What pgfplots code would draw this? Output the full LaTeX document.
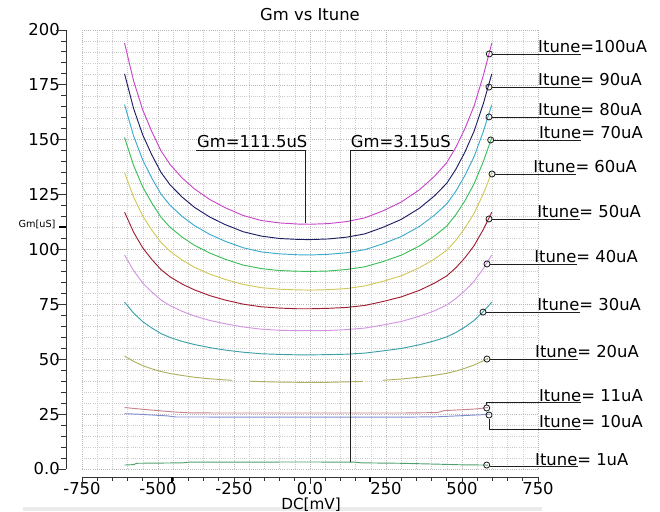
\documentclass[border=0pt]{standalone}
\usepackage{fontspec}
\setmainfont{DejaVu Sans}
\usepackage{pgfplots}
\usepackage{pgfplotstable}
\pgfplotsset{compat=1.18}

\definecolor{c100}{RGB}{200,70,200}
\definecolor{c90}{RGB}{30,30,100}
\definecolor{c80}{RGB}{60,170,205}
\definecolor{c70}{RGB}{60,190,90}
\definecolor{c60}{RGB}{210,200,90}
\definecolor{c50}{RGB}{160,30,50}
\definecolor{c40}{RGB}{210,150,225}
\definecolor{c30}{RGB}{60,160,170}
\definecolor{c20}{RGB}{175,175,95}
\definecolor{c11}{RGB}{200,130,140}
\definecolor{c10}{RGB}{130,140,210}
\definecolor{c1}{RGB}{80,160,110}
\definecolor{ldr}{RGB}{30,30,30}

% Gm [uS] versus DC [mV], one column per Itune
\pgfplotstableread{
x     a100  a90   a80   a70   a60   a50   a40  a30
-610 194.0 180.0 166.0 151.0 135.0 117.0 97.5 76.0
-580 176.7 164.1 151.6 138.2 123.8 107.8 90.3 71.0
-550 163.5 152.1 140.7 128.4 115.2 100.7 84.7 67.1
-520 153.6 143.0 132.4 121.1 108.8 95.4  80.6 64.2
-490 144.9 135.1 125.2 114.7 103.2 90.8  77.0 61.7
-460 138.7 129.4 120.1 110.1 99.2  87.5  74.4 59.9
-420 132.5 123.8 115.0 105.6 95.1  84.2  71.8 58.1
-380 127.6 119.2 110.9 101.9 91.9  81.6  69.7 56.7
-330 122.8 114.8 106.9 98.4  88.8  79.0  67.7 55.3
-280 119.1 111.4 103.8 95.6  86.4  77.0  66.2 54.2
-220 115.5 108.1 100.8 92.9  84.1  75.1  64.7 53.2
-160 113.2 106.1 98.9  91.3  82.6  73.9  63.7 52.5
-100 112.1 105.0 98.0  90.4  81.9  73.3  63.2 52.2
-40  111.6 104.6 97.6  90.1  81.6  73.0  63.0 52.0
0    111.5 104.5 97.5  90.0  81.5  73.0  63.0 52.0
60   111.8 104.8 97.8  90.2  81.7  73.2  63.1 52.1
120  112.7 105.6 98.5  90.9  82.2  73.6  63.5 52.3
180  114.4 107.1 99.9  92.1  83.4  74.5  64.2 52.8
240  117.6 110.1 102.6 94.5  85.5  76.3  65.6 53.8
300  121.6 113.7 105.9 97.4  88.0  78.4  67.2 54.9
360  127.2 118.8 110.5 101.6 91.7  81.4  69.6 56.6
410  133.4 124.5 115.7 106.2 95.7  84.7  72.1 58.4
450  139.6 130.2 120.8 110.7 99.7  88.0  74.7 60.2
480  146.6 136.6 126.6 115.9 104.2 91.7  77.7 62.2
510  155.2 144.5 133.8 122.3 109.9 96.3  81.3 64.7
540  165.5 154.0 142.4 130.0 116.5 101.8 85.6 67.7
570  179.2 166.4 153.7 140.0 125.4 109.1 91.3 71.7
598  194.0 180.0 166.0 151.0 135.0 117.0 97.5 76.0
}\gmdata

\newcommand{\lbl}{\fontsize{14}{16}\selectfont}
% leader line + label: #1 line start x, #2 label x, #3 line end x, #4 line y, #5 text
\newcommand{\itune}[5]{%
  \draw[ldr, line width=0.7pt] (axis cs:#1,#4) -- (axis cs:#3,#4);
  \node[anchor=base west, inner sep=0pt, yshift=0.05cm, font=\lbl] at (axis cs:#2,#4) {#5};
}

\begin{document}
\begin{tikzpicture}
\useasboundingbox (-2.46,-1.29) rectangle (17.34,14.07);
\fill[black!8] (-1.77,-1.25) rectangle (13.8,-1.15);

\begin{axis}[
    at={(0,0)}, anchor=south west,
    scale only axis,
    width=13.68cm, height=13.17cm,
    xmin=-750, xmax=750, ymin=0, ymax=200,
    axis line style={draw=none},
    major tick length=0pt, minor tick length=0pt,
    xtick={-750,-500,-250,0,250,500,750},
    xticklabels={-750,-500,-250,0.0,250,500,750},
    ytick={0,25,...,200},
    yticklabels={0.0,25,50,75,100,125,150,175,200},
    minor x tick num=4, minor y tick num=4,
    grid=both,
    major grid style={black!28, line width=0.5pt, dash pattern=on 0.6pt off 1.2pt},
    minor grid style={black!20, line width=0.5pt, dash pattern=on 0.6pt off 1.2pt},
    ticklabel style={font=\lbl, inner sep=0pt},
    xticklabel style={anchor=north, yshift=-0.40cm},
    yticklabel style={anchor=east, xshift=-0.66cm},
    clip=false,
    every axis plot/.append style={line width=0.8pt},
]
\addplot[c100] table[x=x, y=a100] {\gmdata};
\addplot[c90]  table[x=x, y=a90]  {\gmdata};
\addplot[c80]  table[x=x, y=a80]  {\gmdata};
\addplot[c70]  table[x=x, y=a70]  {\gmdata};
\addplot[c60]  table[x=x, y=a60]  {\gmdata};
\addplot[c50]  table[x=x, y=a50]  {\gmdata};
\addplot[c40]  table[x=x, y=a40]  {\gmdata};
\addplot[c30]  table[x=x, y=a30]  {\gmdata};
% 20uA, drawn in three pieces
\addplot[c20] coordinates {(-610,51.5) (-580,49.0) (-550,47.1) (-520,45.6) (-490,44.4) (-460,43.5) (-420,42.6) (-380,41.8) (-330,41.1) (-280,40.6) (-256,40.4)};
\addplot[c20] coordinates {(-197,40.0) (-160,39.8) (-100,39.6) (-40,39.5) (0,39.5) (60,39.5) (120,39.7) (174,39.9)};
\addplot[c20] coordinates {(240,40.4) (300,41.0) (360,41.8) (410,42.7) (450,43.6) (480,44.6) (510,45.9) (540,47.4) (570,49.3) (585,50.4)};
% 11uA, 10uA, 1uA
\addplot[c11] coordinates {(-610,28.0) (-580,27.6) (-550,27.2) (-500,26.6) (-450,26.0) (-400,25.6) (-300,25.5) (0,25.5) (300,25.5) (420,25.7) (440,26.6) (500,27.0) (550,27.4) (585,28.0)};
\addplot[c10] coordinates {(-610,25.2) (-570,25.0) (-520,24.6) (-470,24.2) (-440,23.7) (0,23.6) (300,23.6) (420,23.8) (500,24.3) (560,24.7) (590,25.0)};
\addplot[c1] coordinates {(-610,1.8) (-580,2.0) (-570,2.6) (-420,2.8) (-400,3.1) (0,3.2) (150,3.1) (170,2.8) (300,2.6) (420,2.2) (500,1.9) (585,1.8)};

% cursor circles
\addplot[only marks, mark=o, mark size=2.6pt, ldr, mark options={line width=0.7pt}] coordinates {
 (589.8,189.1) (588.8,174.0) (588.8,160.4) (594.4,149.9) (598.7,134.4) (588.8,113.9)
 (582.2,93.4) (569.1,71.5) (582.2,50.1) (581.3,27.8) (588.8,24.6) (581.3,1.8)};

\itune{600}{750}{890}{189.1}{Itune=100uA}
\itune{599}{750}{890}{174.0}{Itune= 90uA}
\itune{599}{750}{890}{160.4}{Itune= 80uA}
\itune{604}{753}{893}{149.9}{Itune= 70uA}
\itune{609}{734}{874}{134.4}{Itune= 60uA}
\itune{599}{747}{887}{113.9}{Itune= 50uA}
\itune{592}{737}{877}{93.4}{Itune= 40uA}
\itune{579}{747}{887}{71.5}{Itune= 30uA}
\itune{592}{740}{880}{50.1}{Itune= 20uA}
\itune{591}{740}{880}{1.0}{Itune= 1uA}
\draw[ldr, line width=0.7pt] (axis cs:581.3,29.3) -- (axis cs:581.3,30.2) -- (axis cs:893,30.2);
\node[anchor=base west, inner sep=0pt, yshift=0.05cm, font=\lbl] at (axis cs:753,30.2) {Itune= 11uA};
\draw[ldr, line width=0.7pt] (axis cs:588.8,23.0) -- (axis cs:588.8,18.2) -- (axis cs:893,18.2);
\node[anchor=base west, inner sep=0pt, yshift=0.05cm, font=\lbl] at (axis cs:753,18.2) {Itune= 10uA};

% Gm markers
\draw[ldr, line width=0.7pt] (axis cs:-375,145.3) -- (axis cs:-16,145.3) -- (axis cs:-16,112.1);
\node[anchor=base west, inner sep=0pt, yshift=0.07cm, font=\lbl] at (axis cs:-372,145.3) {Gm=111.5uS};
\draw[ldr, line width=0.7pt] (axis cs:134,3.2) -- (axis cs:134,145.3) -- (axis cs:470,145.3);
\node[anchor=base west, inner sep=0pt, yshift=0.07cm, font=\lbl] at (axis cs:134,145.3) {Gm=3.15uS};

% title and axis labels
\node[anchor=base, inner sep=0pt, yshift=0.27cm, font=\lbl] at (axis cs:0,200) {Gm vs Itune};
\node[inner sep=0pt, font=\fontsize{8.3}{10}\selectfont] at (axis cs:-898,111.6) {Gm[uS]};
\node[anchor=base west, inner sep=0pt, font=\fontsize{13}{15}\selectfont] at (axis cs:-95,-18.3) {DC[mV]};
\end{axis}

% axis lines with ticks, set apart from the plot area
\begin{scope}[black!80, line width=0.8pt]
\draw (-0.48,0) -- (-0.48,13.17);
\foreach \v in {0,5,...,200} \draw (-0.48,{\v/200*13.17}) -- ++(-0.15,0);
\foreach \v in {0,25,...,200} \draw (-0.48,{\v/200*13.17}) -- ++(-0.3,0);
\draw (0,-0.24) -- (13.68,-0.24);
\foreach \v in {0,50,...,1500} \draw ({\v/1500*13.68},-0.24) -- ++(0,-0.12);
\foreach \v in {0,250,...,1500} \draw ({\v/1500*13.68},-0.24) -- ++(0,-0.21);
\draw[black, line width=2pt] (2.7,-0.24) -- ++(0,-0.15);
\draw[black, line width=2pt] (8.64,-0.24) -- ++(0,-0.15);
\draw[black, line width=2pt] (-0.48,7.26) -- ++(-0.2,0);
\end{scope}
\end{tikzpicture}
\end{document}
